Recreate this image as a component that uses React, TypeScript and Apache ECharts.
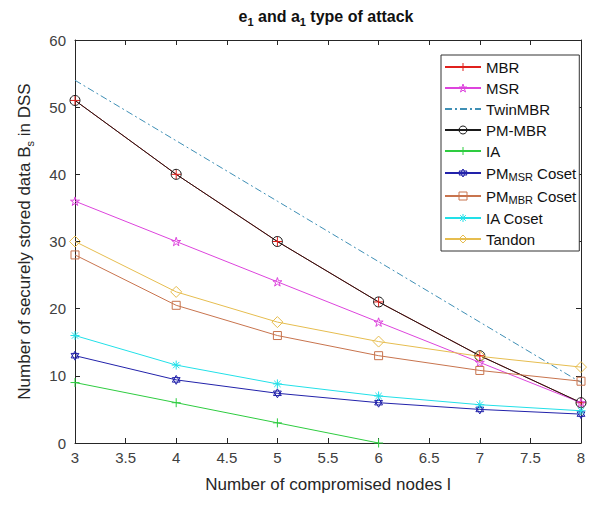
import React, { useEffect, useRef } from "react";
import * as echarts from "echarts";

const xValues = [3, 4, 5, 6, 7, 8];
const mbr = [51, 40, 30, 21, 13, 6];
const msr = [36, 30, 24, 18, 12, 6];
const twinMbr = [54, 45, 36, 27, 18, 9];
const pmMbr = [51, 40, 30, 21, 13, 6];
const ia = [9, 6, 3, 0];
const pmMsrCoset = [13, 9.4, 7.4, 6, 5, 4.3];
const pmMbrCoset = [28, 20.5, 16, 13, 10.8, 9.2];
const iaCoset = [16, 11.6, 8.8, 7, 5.7, 4.8];
const tandon = [30, 22.5, 18, 15.1, 12.9, 11.3];

const seriesNames = [
  "MBR",
  "MSR",
  "TwinMBR",
  "PM-MBR",
  "IA",
  "PM_MSR Coset",
  "PM_MBR Coset",
  "IA Coset",
  "Tandon",
];
const seriesColors = [
  "#e0201c",
  "#dd44dd",
  "#3f8fb5",
  "#1a1a1a",
  "#2ecc40",
  "#2222aa",
  "#c8744e",
  "#22e0e8",
  "#e6bd4f",
];

const PLUS = "path://M0,5L10,5M5,0L5,10";
const ASTER = "path://M0,5L10,5M5,0L5,10M1.5,1.5L8.5,8.5M1.5,8.5L8.5,1.5";
const STAR =
  "path://M10,0L12.245,6.91L19.51,6.91L13.63,11.18L15.88,18.09L10,13.82L4.12,18.09L6.37,11.18L0.49,6.91L7.755,6.91Z";
const HEX = "path://M10,0L18.66,15L1.34,15ZM10,20L18.66,5L1.34,5Z";

function pairs(vals: number[]) {
  return vals.map((v, i) => [xValues[i], v]);
}

function mk(
  idx: number,
  vals: number[],
  symbol: string,
  size: number,
  lineType: any = "solid",
  showSymbol = true
) {
  const color = seriesColors[idx];
  return {
    name: seriesNames[idx],
    type: "line",
    data: pairs(vals),
    symbol: showSymbol ? symbol : "none",
    symbolSize: size,
    symbolKeepAspect: true,
    showSymbol,
    lineStyle: { color, width: 1, type: lineType },
    itemStyle: { color: "rgba(255,255,255,0)", borderColor: color, borderWidth: 1 },
    emphasis: { disabled: true },
  };
}

export default function App() {
  const ref = useRef<HTMLDivElement>(null);
  useEffect(() => {
    if (!ref.current) return;
    const chart = echarts.init(ref.current, undefined, { renderer: "svg" });
    const font = "Liberation Sans, Arial, sans-serif";
    const axisColor = "#262626";
    const labelColor = "#404040";
    chart.setOption({
      animation: false,
      textStyle: { fontFamily: font },
      title: {
        text: "e{sub|1} and a{sub|1} type of attack",
        left: 318,
        textAlign: "center",
        top: -2,
        padding: 0,
        textStyle: {
          fontSize: 16,
          fontWeight: "bold",
          color: "#111",
          fontFamily: font,
          rich: {
            sub: { fontSize: 11, fontWeight: "bold", padding: [10, 0, 0, 0], color: "#111" },
          },
        },
      },
      legend: {
        orient: "vertical",
        left: 433,
        top: 47,
        data: seriesNames.map((n, i) => ({
          name: n,
          itemStyle:
            n === "TwinMBR"
              ? { opacity: 0 }
              : { color: "rgba(255,255,255,0)", borderColor: seriesColors[i], borderWidth: 1 },
        })),
        itemWidth: 36,
        itemHeight: 10,
        itemGap: 5,
        padding: [4, 3, 4, 3],
        borderColor: "#333",
        borderWidth: 1,
        borderRadius: 0,
        backgroundColor: "#fff",
        formatter: (n: string) =>
          n === "PM_MSR Coset"
            ? "PM{sub|MSR} Coset"
            : n === "PM_MBR Coset"
            ? "PM{sub|MBR} Coset"
            : n,
        textStyle: {
          fontSize: 15,
          lineHeight: 16,
          color: "#111",
          fontFamily: font,
          rich: {
            sub: { fontSize: 11, lineHeight: 16, padding: [7, 0, 0, 0], color: "#111" },
          },
        },
      },
      grid: { left: 64, right: 21, top: 32, bottom: 44, containLabel: false },
      xAxis: [
        {
          type: "value",
          min: 3,
          max: 8,
          interval: 0.5,
          name: "Number of compromised nodes l",
          nameLocation: "middle",
          nameGap: 33,
          nameTextStyle: { fontSize: 17, color: "#262626", fontFamily: font },
          axisLine: { onZero: false, lineStyle: { color: axisColor } },
          axisTick: { inside: true, length: 5, lineStyle: { color: axisColor } },
          axisLabel: { fontSize: 15, color: labelColor, margin: 7, fontFamily: font },
          splitLine: { show: false },
        },
        {
          type: "value",
          position: "top",
          min: 3,
          max: 8,
          interval: 0.5,
          axisLine: { onZero: false, lineStyle: { color: axisColor } },
          axisTick: { inside: true, length: 5, lineStyle: { color: axisColor } },
          axisLabel: { show: false },
          splitLine: { show: false },
        },
      ],
      yAxis: [
        {
          type: "value",
          min: 0,
          max: 60,
          interval: 10,
          name: "Number of securely stored data B{sub|s} in DSS",
          nameLocation: "middle",
          nameGap: 40,
          nameTextStyle: {
            fontSize: 17,
            color: "#262626",
            fontFamily: font,
            rich: { sub: { fontSize: 11, padding: [10, 0, 0, 0], color: "#262626" } },
          },
          axisLine: { show: true, onZero: false, lineStyle: { color: axisColor } },
          axisTick: { show: true, inside: true, length: 5, lineStyle: { color: axisColor } },
          axisLabel: { fontSize: 15, color: labelColor, margin: 9, fontFamily: font },
          splitLine: { show: false },
        },
        {
          type: "value",
          position: "right",
          min: 0,
          max: 60,
          interval: 10,
          axisLine: { show: true, onZero: false, lineStyle: { color: axisColor } },
          axisTick: { show: true, inside: true, length: 5, lineStyle: { color: axisColor } },
          axisLabel: { show: false },
          splitLine: { show: false },
        },
      ],
      series: [
        mk(0, mbr, PLUS, 10),
        mk(1, msr, STAR, 9),
        mk(2, twinMbr, "none", 0, [7, 3, 2, 3], false),
        mk(3, pmMbr, "circle", 10),
        mk(4, ia, PLUS, 9),
        mk(5, pmMsrCoset, HEX, 9),
        mk(6, pmMbrCoset, "rect", 8),
        mk(7, iaCoset, ASTER, 9),
        mk(8, tandon, "diamond", 11),
      ],
    });
    return () => chart.dispose();
  }, []);
  return <div ref={ref} style={{ width: 594, height: 490 }} />;
}
